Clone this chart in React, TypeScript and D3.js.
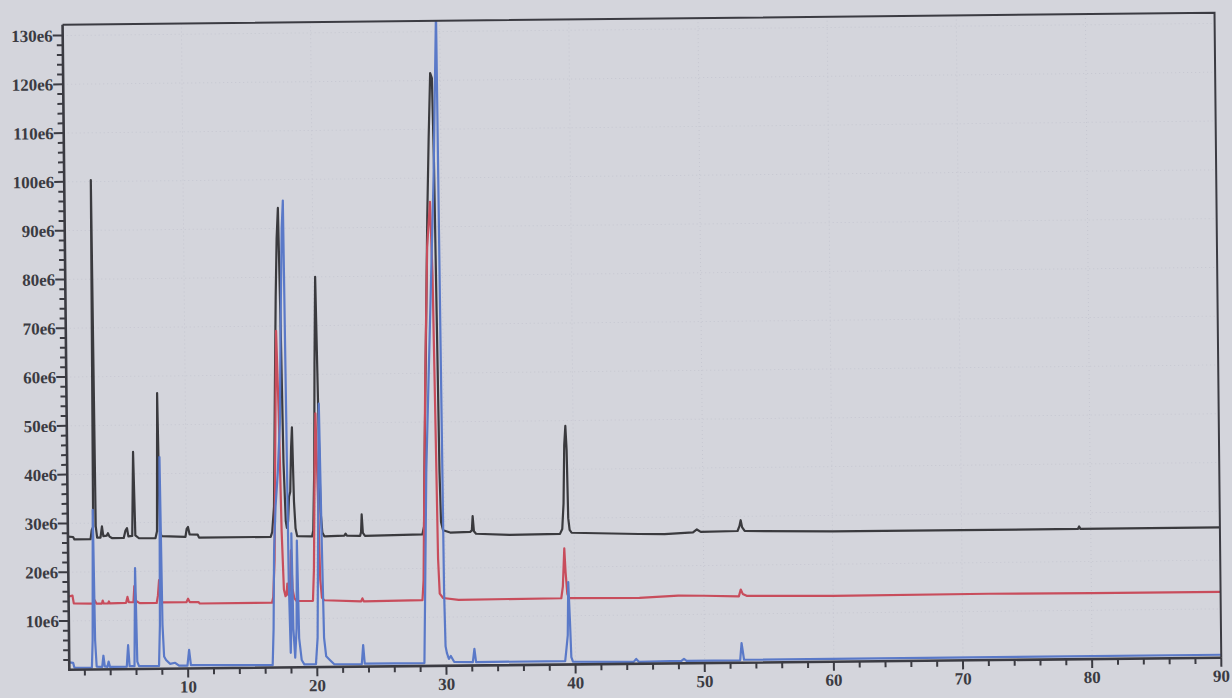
import React, { useRef, useEffect } from "react";
import * as d3 from "d3";

// temps de rétention (min), abondance (x 1e6)
const traceNoire: [number, number][] = [
  [0.8, 27.3], [1.2, 27.2], [1.3, 26.7], [2.55, 26.7], [2.65, 28.6], [2.76, 29.2], [2.86, 100.3], [2.96, 29.4],
  [3.06, 27.0], [3.32, 27.0], [3.44, 29.3], [3.54, 27.3], [3.8, 27.4], [3.9, 27.9], [4.02, 27.2], [4.2, 26.9],
  [5.12, 26.9], [5.26, 28.4], [5.38, 28.9], [5.48, 27.2], [5.78, 27.3], [5.91, 44.5], [6.02, 27.4], [6.3, 26.8],
  [7.58, 26.8], [7.7, 28.2], [7.82, 56.5], [7.93, 28.1], [8.05, 27.2], [9.9, 27.0], [10.0, 28.6], [10.1, 29.0],
  [10.22, 27.5], [10.85, 27.4], [10.95, 26.8], [16.5, 26.8], [16.62, 27.8], [16.78, 33], [16.95, 58], [17.08, 76],
  [17.2, 88], [17.32, 94.2], [17.43, 72], [17.55, 42], [17.68, 30], [17.76, 28.6], [17.86, 30], [17.95, 35],
  [18.05, 36], [18.15, 45], [18.23, 49.2], [18.33, 34], [18.43, 28.5], [18.55, 26.9], [19.7, 26.8], [19.8, 28],
  [19.92, 40], [20.03, 62], [20.15, 80], [20.27, 55], [20.38, 32], [20.5, 27.6], [20.65, 26.8], [22.2, 26.9],
  [22.3, 27.3], [22.4, 26.9], [23.42, 26.8], [23.5, 27.6], [23.56, 31.2], [23.64, 27.4], [23.8, 26.8],
  [28.25, 27.0], [28.38, 28.6], [28.45, 39], [28.58, 55], [28.72, 72], [28.88, 92], [29.05, 108], [29.22, 121.5],
  [29.35, 120.5], [29.44, 104], [29.53, 72], [29.62, 40], [29.7, 29.5], [29.85, 27.8], [30.4, 27.3],
  [31.95, 27.4], [32.08, 27.7], [32.15, 30.6], [32.24, 27.5], [32.4, 27.0], [35, 26.7], [38.9, 26.8],
  [39.08, 27.8], [39.2, 33], [39.3, 45], [39.4, 48.9], [39.48, 44], [39.55, 30], [39.65, 27.6], [39.8, 27.0],
  [45, 26.6], [47, 26.5], [49.2, 26.8], [49.5, 27.4], [49.8, 26.9], [52.65, 27.0], [52.8, 28.0], [52.9, 29.2],
  [53.0, 27.8], [53.2, 27.0], [60, 26.7], [70, 26.7], [79.0, 26.7], [79.1, 27.2], [79.2, 26.7], [90, 26.7],
];

const traceRouge: [number, number][] = [
  [0.8, 15.0], [1.1, 15.2], [1.2, 13.6], [2.7, 13.5], [2.82, 14.2], [2.95, 13.5], [3.38, 13.5], [3.44, 14.1],
  [3.52, 13.5], [3.85, 13.5], [3.92, 13.9], [4.0, 13.5], [5.25, 13.6], [5.36, 14.8], [5.46, 13.7], [5.82, 13.7],
  [5.9, 17.0], [6.0, 14.0], [6.3, 13.5], [7.62, 13.5], [7.72, 15.0], [7.82, 18.2], [7.93, 14.6], [8.05, 13.6],
  [9.92, 13.6], [10.05, 14.3], [10.18, 13.6], [10.85, 13.6], [10.95, 13.3], [16.55, 13.3], [16.65, 14.5],
  [16.78, 22], [16.92, 45], [17.08, 69], [17.22, 52], [17.35, 28], [17.48, 16], [17.6, 14.6], [17.68, 15],
  [17.75, 17.2], [17.83, 14.8], [17.95, 15.8], [18.05, 24], [18.15, 16], [18.28, 14.2], [18.45, 13.6],
  [19.72, 13.6], [19.82, 20], [19.95, 40], [20.06, 52], [20.18, 36], [20.3, 18], [20.42, 14.2], [20.6, 13.7],
  [23.45, 13.4], [23.55, 14.0], [23.65, 13.4], [28.2, 13.5], [28.3, 17.5], [28.42, 35], [28.6, 60], [28.85, 86],
  [29.1, 95.1], [29.24, 80], [29.34, 52], [29.44, 22], [29.54, 14.8], [29.8, 13.9], [31, 13.5], [38.95, 13.6],
  [39.08, 16], [39.22, 23.8], [39.3, 19], [39.42, 14.5], [39.55, 13.6], [45, 13.5], [48, 13.9], [50, 13.8],
  [52.7, 13.6], [52.85, 15.0], [53.0, 14.1], [53.3, 13.7], [60, 13.5], [72, 13.6], [80, 13.5], [90, 13.5],
];

const traceBleue: [number, number][] = [
  [0.8, 1.5], [1.1, 1.4], [1.2, 0.4], [2.55, 0.4], [2.63, 6], [2.74, 32.7], [2.82, 6], [2.92, 0.6], [3.35, 0.5],
  [3.45, 2.8], [3.55, 0.6], [3.75, 0.5], [3.85, 1.6], [3.95, 0.5], [5.25, 0.5], [5.37, 4.9], [5.47, 0.6],
  [5.85, 0.6], [5.97, 20.7], [6.07, 1.5], [6.2, 0.6], [7.75, 0.6], [7.85, 9], [7.95, 43.4], [8.05, 9], [8.15, 2.5],
  [8.3, 1.8], [8.6, 1.0], [9.0, 1.2], [9.3, 0.6], [9.95, 0.6], [10.09, 3.8], [10.22, 0.7], [16.55, 0.5],
  [16.65, 8], [16.75, 24], [16.9, 33], [17.1, 40], [17.3, 50], [17.45, 72], [17.6, 90], [17.71, 95.7],
  [17.78, 60], [17.86, 18], [17.96, 3], [18.03, 9], [18.1, 27.5], [18.18, 8], [18.3, 2], [18.43, 8], [18.52, 26],
  [18.62, 6], [18.8, 1.5], [19.0, 0.6], [19.9, 0.6], [20.05, 6], [20.2, 32], [20.33, 54], [20.45, 25], [20.55, 6],
  [20.7, 2.2], [21.0, 1.4], [21.3, 0.6], [23.45, 0.5], [23.57, 4.4], [23.68, 0.6], [28.3, 0.6], [28.45, 20],
  [28.6, 40], [29.0, 70], [29.4, 100], [29.72, 134], [29.8, 70], [29.88, 15], [29.95, 4], [30.05, 2.6],
  [30.2, 1.4], [30.35, 2.0], [30.6, 0.8], [32.05, 0.7], [32.18, 3.4], [32.3, 0.7], [39.2, 0.7], [39.32, 3.5],
  [39.42, 6], [39.5, 16.9], [39.6, 9], [39.68, 1.5], [39.8, 0.6], [44.5, 0.4], [44.7, 1.0], [44.9, 0.4],
  [48.2, 0.5], [48.4, 0.9], [48.6, 0.5], [52.75, 0.5], [52.87, 4.0], [52.95, 2.5], [53.05, 0.6], [90, 0.6],
];

const yTicks = [10, 20, 30, 40, 50, 60, 70, 80, 90, 100, 110, 120, 130];
const xTicks = [10, 20, 30, 40, 50, 60, 70, 80, 90];

const App = () => {
  const svgRef = useRef<SVGSVGElement>(null);

  useEffect(() => {
    const svg = d3.select(svgRef.current);
    svg.selectAll("*").remove();

    const W = 1232, H = 698;
    const left = 66, right = 1218, top = 19, bottom = 664;
    const encre = "#3b3b42";

    const x = d3.scaleLinear().domain([0.8, 90]).range([left, right]);
    const y = d3.scaleLinear().domain([0, 132.2]).range([bottom, top]);

    svg.append("rect").attr("width", W).attr("height", H).attr("fill", "#d4d5dc");

    // the scan is slightly tilted
    const g = svg.append("g").attr("transform", "rotate(-0.6, 616, 349)");

    g.append("defs")
      .append("clipPath")
      .attr("id", "zonePlot")
      .append("rect")
      .attr("x", left)
      .attr("y", top)
      .attr("width", right - left)
      .attr("height", bottom - top);

    // very faint grid
    g.append("g")
      .selectAll("line")
      .data(xTicks.slice(0, -1))
      .join("line")
      .attr("x1", (d) => x(d))
      .attr("x2", (d) => x(d))
      .attr("y1", top)
      .attr("y2", bottom)
      .attr("stroke", "#c6c7d1")
      .attr("stroke-width", 1)
      .attr("stroke-dasharray", "1 3");
    g.append("g")
      .selectAll("line")
      .data(yTicks)
      .join("line")
      .attr("x1", left)
      .attr("x2", right)
      .attr("y1", (d) => y(d))
      .attr("y2", (d) => y(d))
      .attr("stroke", "#c6c7d1")
      .attr("stroke-width", 1)
      .attr("stroke-dasharray", "1 3");

    // traces
    const ligne = d3
      .line<[number, number]>()
      .x((d) => x(d[0]))
      .y((d) => y(d[1]));

    const traces: [[number, number][], string][] = [
      [traceNoire, "#3a3a3e"],
      [traceRouge, "#c84d5c"],
      [traceBleue, "#5a79c8"],
    ];
    const gTraces = g.append("g").attr("clip-path", "url(#zonePlot)");
    traces.forEach(([data, couleur]) => {
      gTraces
        .append("path")
        .datum(data)
        .attr("d", ligne)
        .attr("fill", "none")
        .attr("stroke", couleur)
        .attr("stroke-width", 2.2)
        .attr("stroke-linejoin", "round");
    });

    // frame
    g.append("path")
      .attr("d", `M${left},${top}H${right}V${bottom}`)
      .attr("fill", "none")
      .attr("stroke", encre)
      .attr("stroke-width", 2);
    g.append("path")
      .attr("d", `M${left},${top}V${bottom}H${right}`)
      .attr("fill", "none")
      .attr("stroke", encre)
      .attr("stroke-width", 2.6);

    // y ticks
    const yMineurs = d3.range(2, 132, 2).filter((d) => d % 10 !== 0);
    g.append("g")
      .selectAll("line")
      .data(yMineurs)
      .join("line")
      .attr("x1", left - 6)
      .attr("x2", left)
      .attr("y1", (d) => y(d))
      .attr("y2", (d) => y(d))
      .attr("stroke", encre)
      .attr("stroke-width", 2);
    g.append("g")
      .selectAll("line")
      .data(yTicks)
      .join("line")
      .attr("x1", left - 10)
      .attr("x2", left)
      .attr("y1", (d) => y(d))
      .attr("y2", (d) => y(d))
      .attr("stroke", encre)
      .attr("stroke-width", 2);
    g.append("g")
      .selectAll("text")
      .data(yTicks)
      .join("text")
      .attr("x", left - 10)
      .attr("y", (d) => y(d))
      .attr("dy", "0.35em")
      .attr("text-anchor", "end")
      .style("font-family", "'Liberation Serif', 'DejaVu Serif', serif")
      .style("font-weight", "bold")
      .style("font-size", "17px")
      .style("fill", encre)
      .text((d) => d + "e6");

    // x ticks
    const xMineurs = d3.range(2, 90, 2).filter((d) => d % 10 !== 0);
    g.append("g")
      .selectAll("line")
      .data(xMineurs)
      .join("line")
      .attr("x1", (d) => x(d))
      .attr("x2", (d) => x(d))
      .attr("y1", bottom)
      .attr("y2", bottom + 6)
      .attr("stroke", encre)
      .attr("stroke-width", 2);
    g.append("g")
      .selectAll("line")
      .data(xTicks)
      .join("line")
      .attr("x1", (d) => x(d))
      .attr("x2", (d) => x(d))
      .attr("y1", bottom)
      .attr("y2", bottom + 9)
      .attr("stroke", encre)
      .attr("stroke-width", 2);
    g.append("g")
      .selectAll("text")
      .data(xTicks)
      .join("text")
      .attr("x", (d) => x(d))
      .attr("y", bottom + 24)
      .attr("text-anchor", "middle")
      .style("font-family", "'Liberation Serif', 'DejaVu Serif', serif")
      .style("font-weight", "bold")
      .style("font-size", "17px")
      .style("fill", encre)
      .text((d) => d);
  }, []);

  return (
    <svg
      ref={svgRef}
      width={1232}
      height={698}
      style={{ position: "absolute", left: 0, top: 0, display: "block" }}
    ></svg>
  );
};

export default App;
